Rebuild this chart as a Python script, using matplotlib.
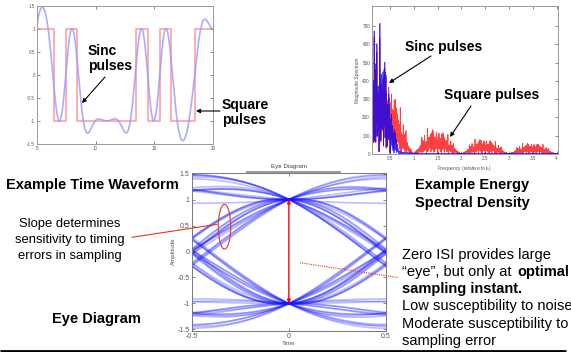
import numpy as np
import matplotlib
matplotlib.use('Agg')
import matplotlib.pyplot as plt
from matplotlib.patches import Ellipse, FancyArrowPatch

plt.rcParams['font.family'] = ['Liberation Sans', 'DejaVu Sans']
plt.rcParams['axes.unicode_minus'] = False

# ---- data -------------------------------------------------------------
# symbols of the example time waveform (centres 2.95, 3.95, ... 20.95)
wave_bits = [1, -1, 1, 1, -1, 1, -1, -1, -1, -1, -1, 1, -1, 1, -1, -1, 1, 1, 1]
wave_first_centre = 2.95

# longer symbol stream used for the spectrum and the eye diagram
stream_bits = [1, 0, 1, 1, 0, 1, 0, 0, 0, 0, 0, 1, 0, 1, 0, 0, 1, 1, 1, 0, 0, 1, 1, 0, 1, 0, 1, 1, 1, 0, 0, 0,
               0, 1, 1, 0, 0, 0, 1, 0, 1, 1, 0, 1, 1, 1, 0, 0, 1, 0, 0, 1, 0, 1, 0, 0, 0, 1, 1, 1, 1, 0, 1, 0,
               1, 1, 0, 1, 0, 0, 1, 1, 0, 0, 0, 1, 0, 1, 1, 0, 1, 0, 0, 1, 1, 1, 0, 1, 0, 0, 0, 0, 1, 1, 0, 1,
               0, 0, 1, 0, 1, 1, 1, 0, 0, 1, 1, 0, 1, 0, 0, 1, 0, 1, 1, 1, 1, 0, 0, 1, 0, 1, 0, 0, 1, 1, 0, 0,
               1, 1, 1, 0, 1, 0, 0, 0, 1, 1, 0, 0, 1, 0, 1, 1, 0, 0, 0, 1, 1, 0, 1, 0, 1, 1, 0, 0, 0, 1, 0, 1,
               0, 1, 0, 0, 1, 1, 0, 1, 1, 1, 1, 0, 0, 0, 1, 0, 1, 0, 1, 1, 0, 0, 1, 1, 0, 1, 0, 0, 1, 0, 0, 1,
               1, 0, 0, 1, 1, 0, 1, 0, 0, 0, 1, 1, 1, 0, 1, 1, 0, 1, 0, 0, 0, 1, 0, 1, 1, 1, 0, 0, 1, 1, 0, 1,
               0, 1, 1, 1, 0, 0, 1, 0, 1, 0, 0, 1, 0, 1, 1, 0, 0, 1, 1, 0, 1, 1, 1, 0, 0, 0, 1, 0, 1, 0, 0, 1]
rolloff = 0.5
samples_per_symbol = 18
fft_padding = 2
eye_symbols = 64

time_xticks = [5, 10, 15, 20]
amp_ticks = [-1.5, -1, -0.5, 0, 0.5, 1, 1.5]
amp_labels = ['-1.5', '-1', '-0.5', '0', '0.5', '1', '1.5']
freq_ticks = [0.5, 1, 1.5, 2, 2.5, 3, 3.5, 4]
freq_labels = ['0.5', '1', '1.5', '2', '2.5', '3', '3.5', '4']
mag_ticks = [0, 100, 200, 300, 400, 500, 600, 700]
eye_xticks = [-0.5, 0, 0.5]
eye_xlabels = ['-0.5', '0', '0.5']


def rc_pulse(t, beta):
    den = 1 - (2 * beta * t) ** 2
    safe = np.where(np.abs(den) < 1e-9, 1.0, den)
    p = np.sinc(t) * np.cos(np.pi * beta * t) / safe
    return np.where(np.abs(den) < 1e-9, np.pi / 4 * np.sinc(1 / (2 * beta)), p)


W, H = 571, 352
fig = plt.figure(figsize=(W / 100, H / 100), dpi=100)


def box(l, t, r, b):
    return [l / W, 1 - b / H, (r - l) / W, (b - t) / H]


def matlab_style(ax, size, spine='#999999'):
    ax.tick_params(direction='in', top=True, right=True, length=2, width=0.5,
                   labelsize=size, colors='#555555', pad=1.5)
    for s in ax.spines.values():
        s.set_color(spine)
        s.set_linewidth(0.7)


# ---- example time waveform -------------------------------------------
ax1 = fig.add_axes(box(37, 6, 213, 144))
centres = wave_first_centre + np.arange(len(wave_bits))
t = np.linspace(centres[0] - 0.5, centres[-1] + 0.5, 2000)
sinc_wave = np.zeros_like(t)
for c, b in zip(centres, wave_bits):
    sinc_wave += b * rc_pulse(t - c, rolloff)
edges = np.append(centres - 0.5, centres[-1] + 0.5)
ax1.step(edges, wave_bits + [wave_bits[-1]], where='post', color='#ff7070', lw=1.1, alpha=0.7)
ax1.plot(t, sinc_wave, color='#9898ff', lw=1.2, alpha=0.8)
ax1.set_xlim(5, 20)
ax1.set_ylim(-1.5, 1.5)
ax1.set_xticks(time_xticks)
ax1.set_yticks(amp_ticks)
ax1.set_yticklabels(amp_labels)
matlab_style(ax1, 3.3)

# ---- energy spectral density -----------------------------------------
ax2 = fig.add_axes(box(372, 6, 558, 154))
bits = 2 * np.array(stream_bits) - 1
n_sym = len(bits)
sps = samples_per_symbol
sq = np.repeat(bits, sps).astype(float)
ts = np.arange(n_sym * sps) / sps
rc = np.zeros_like(ts)
for k, b in enumerate(bits):
    rc += b * rc_pulse(ts - k - 0.5, rolloff)
nfft = n_sym * sps * fft_padding
f = np.arange(nfft // 2 + 1) / (n_sym * fft_padding)
keep = f <= 4.1
ax2.plot(f[keep], np.abs(np.fft.rfft(sq, nfft))[keep], color='red', lw=0.6, alpha=0.75)
ax2.plot(f[keep], np.abs(np.fft.rfft(rc, nfft))[keep], color='blue', lw=0.6, alpha=0.75)
ax2.set_xlim(0.12, 4.03)
ax2.set_ylim(0, 810)
ax2.set_xticks(freq_ticks)
ax2.set_xticklabels(freq_labels)
ax2.set_yticks(mag_ticks)
ax2.set_xlabel('Frequency (relative to f$_s$)', fontsize=3.5, color='#555555', labelpad=2)
ax2.set_ylabel('Magnitude Spectrum', fontsize=3.5, color='#555555', labelpad=2)
matlab_style(ax2, 3.3)

# ---- eye diagram -----------------------------------------------------
ax3 = fig.add_axes(box(191.7, 172.5, 386, 330.5))
te = np.linspace(-0.5, 0.5, 80)
for k in range(3, eye_symbols + 3):
    y = np.zeros_like(te)
    for j in range(n_sym):
        y += bits[j] * rc_pulse(te + k - j, rolloff)
    ax3.plot(te, y, color='#1515ff', lw=1.2, alpha=0.28)
ax3.set_xlim(-0.5, 0.5)
ax3.set_ylim(-1.52, 1.52)
ax3.set_xticks(eye_xticks)
ax3.set_xticklabels(eye_xlabels)
ax3.set_yticks(amp_ticks)
ax3.set_yticklabels(amp_labels)
ax3.set_title('Eye Diagram', fontsize=4.5, color='#444444', pad=3)
ax3.set_xlabel('Time', fontsize=4.5, color='#555555', labelpad=1)
ax3.set_ylabel('Amplitude', fontsize=4.5, color='#555555', labelpad=1)
matlab_style(ax3, 5, spine='#777777')
ax3.annotate('', xy=(0, -1), xytext=(0, 1),
             arrowprops=dict(arrowstyle='<|-|>', color='red', lw=1.0,
                             mutation_scale=5, shrinkA=0, shrinkB=0))

# ---- slide overlay (pixel coordinates) --------------------------------
ov = fig.add_axes([0, 0, 1, 1], zorder=10)
ov.set_xlim(0, W)
ov.set_ylim(H, 0)
ov.axis('off')
ov.patch.set_alpha(0)

red = '#e8341c'


def arrow(x0, y0, x1, y1, color='black'):
    ov.add_patch(FancyArrowPatch((x0, y0), (x1, y1), arrowstyle='-|>',
                                 mutation_scale=6, color=color, lw=0.8,
                                 shrinkA=0, shrinkB=0))


bold = dict(fontweight='bold', fontsize=10, va='baseline', color='black')
ov.text(88, 55, 'Sinc', **bold)
ov.text(88, 70, 'pulses', **bold)
arrow(105, 77, 82, 103)
ov.text(222, 109, 'Square', **bold)
ov.text(222, 124, 'pulses', **bold)
arrow(220, 111, 196, 111)

ov.text(405, 51, 'Sinc pulses', **bold)
arrow(431, 56, 389, 83)
ov.text(444, 98.5, 'Square pulses', **bold)
arrow(471, 106, 450, 137)

head = dict(fontweight='bold', fontsize=10.5, va='baseline', color='black')
ov.text(6, 188.5, 'Example Time Waveform', **head)
ov.text(96, 323.5, 'Eye Diagram', ha='center', **head)
ov.text(415, 189.5, 'Example Energy', **head)
ov.text(415, 206.5, 'Spectral Density', **head)

slope_lines = ['Slope determines', 'sensitivity to timing', 'errors in sampling']
for i, s in enumerate(slope_lines):
    ov.text(70, 227.5 + 15.7 * i, s, ha='center', va='baseline', fontsize=9.4)
ov.plot([132, 217], [237.3, 224.3], color=red, lw=0.8)
ov.add_patch(Ellipse((224.5, 226.7), 12.4, 44.7, fill=False, ec=red, lw=0.8))
ov.plot([300, 398], [262.7, 277.5], color=red, lw=0.8, ls=(0, (1, 1)))
ov.plot([247, 340], [172, 172], color='#9a9a9a', lw=1.4)

body = dict(fontsize=10.5, va='baseline', color='black')
x0 = 401.7
ov.text(x0, 258.5, 'Zero ISI provides large', **body)
ov.text(x0, 275.8, '\u201ceye\u201d, but only at ', **body)
ov.text(517.3, 275.8, 'optimal', fontweight='bold', **body)
ov.text(x0, 293.1, 'sampling instant.', fontweight='bold', **body)
ov.text(x0, 310.4, 'Low susceptibility to noise', **body)
ov.text(x0, 327.7, 'Moderate susceptibility to', **body)
ov.text(x0, 345.0, 'sampling error', **body)

ov.plot([0, 566], [351, 351], color='black', lw=2.0, solid_capstyle='butt')

fig.savefig('out.png', dpi=100)
